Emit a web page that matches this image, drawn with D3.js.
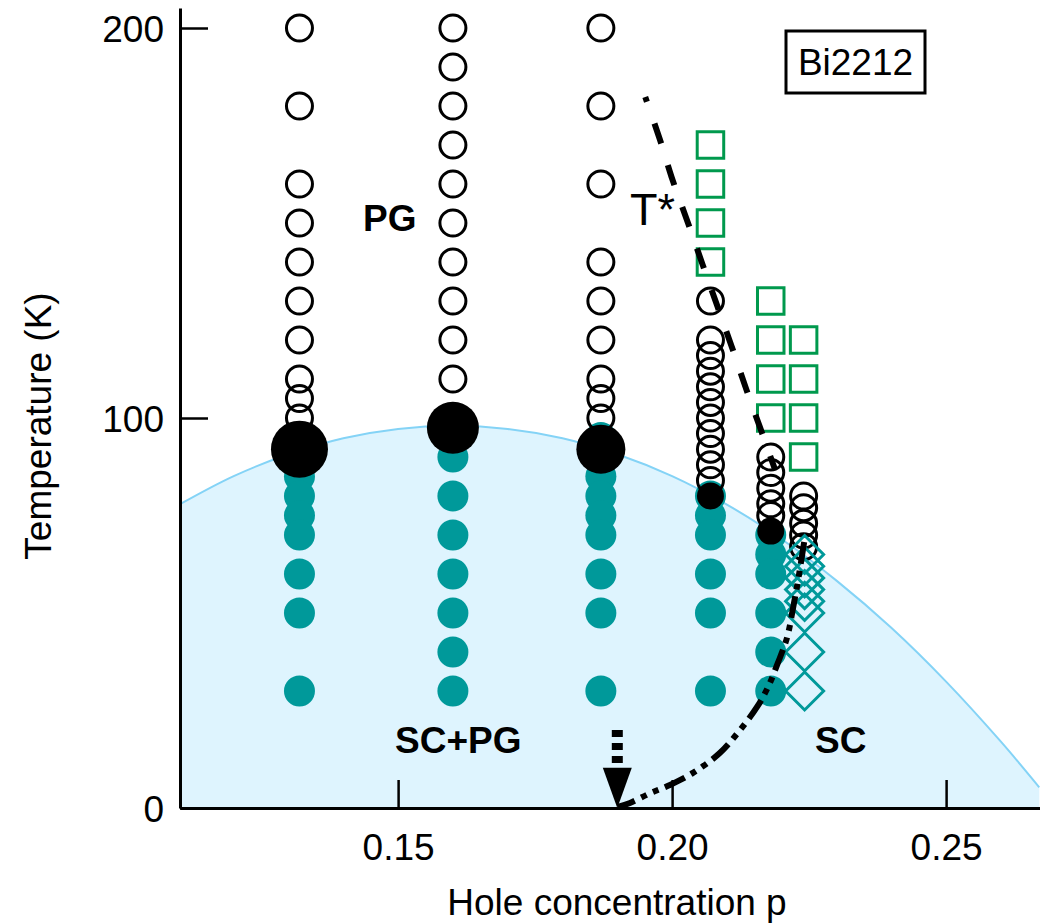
<!DOCTYPE html>
<html>
<head>
<meta charset="utf-8">
<script src="https://cdn.jsdelivr.net/npm/d3@7"></script>
<style>
  html, body { margin: 0; padding: 0; background: #fff; }
  svg { display: block; }
  text { font-family: "Liberation Sans", Arial, sans-serif; fill: #000; }
</style>
</head>
<body>
<svg id="chart" width="1040" height="923"></svg>
<script>
// ---------- data ----------
const xTicks = [0.15, 0.20, 0.25];
const xTickLabels = ["0.15", "0.20", "0.25"];
const yTicks = [0, 100, 200];
const yTickLabels = ["0", "100", "200"];

// superconducting dome
const domeP = [0.1102, 0.12, 0.13, 0.14, 0.15, 0.16, 0.17, 0.18, 0.19, 0.20, 0.21, 0.22, 0.23, 0.24, 0.25, 0.26, 0.267];
const domeT = [77.9, 85.1, 90.7, 94.8, 97.2, 98.0, 97.2, 94.8, 90.7, 85.1, 77.8, 68.9, 58.3, 46.2, 32.4, 17.0, 5.3];

// sample dopings
const sampleP = [0.132, 0.160, 0.187, 0.207, 0.218, 0.224];
// open circles (pseudogap) temperatures per sample
const openT = [
  [200, 180, 160, 150, 140, 130, 120, 110, 105, 100],
  [200, 190, 180, 170, 160, 150, 140, 130, 120, 110],
  [200, 180, 160, 140, 130, 120, 110, 105, 100],
  [130, 120, 116, 112, 108, 104, 100, 96, 92, 88, 84],
  [90, 86, 82, 78, 75],
  [80, 77, 73, 70, 67]
];
// teal filled circles (SC + PG) temperatures per sample
const scpgT = [
  [85, 80, 75, 70, 60, 50, 30],
  [90, 80, 70, 60, 50, 40, 30],
  [95, 85, 80, 75, 70, 60, 50, 30],
  [80, 75, 70, 60, 50, 30],
  [70, 65, 60, 50, 40, 30],
  []
];
// Tc markers
const tcBigP = [0.132, 0.160, 0.187];
const tcBigT = [92, 97.5, 92];
const tcSmallP = [0.207, 0.218];
const tcSmallT = [80, 71];
// green squares
const squareP = [0.207, 0.218, 0.224];
const squareT = [
  [170, 160, 150, 140],
  [130, 120, 110, 100],
  [120, 110, 100, 90]
];
// teal diamonds
const diamondP = 0.224;
const diamondT = [65, 62, 59, 56, 53, 50, 40, 30];
// T* dashed line
const tStarP = [0.1951, 0.1978, 0.1999, 0.2029, 0.2056, 0.2083, 0.2109, 0.2137, 0.2164, 0.2188];
const tStarT = [182.3, 171.3, 161.8, 150.0, 139.2, 128.5, 118.2, 106.7, 96.2, 86.7];
// dash-dot curve
const ddP = [0.2241, 0.2230, 0.2221, 0.2210, 0.2193, 0.2175, 0.2155, 0.2124, 0.2087, 0.2038, 0.1996, 0.1960, 0.1923, 0.1901];
const ddT = [68.2, 58.5, 51.5, 43.8, 37.2, 31.0, 25.9, 20.0, 14.1, 9.0, 5.9, 3.8, 1.3, 0.3];
// arrow at critical doping
const arrowP = 0.19;
const arrowTopT = 20, arrowHeadT = 10.3;

const bigRadius = [28.5, 26, 24.5];

// ---------- scales ----------
const svg = d3.select("#chart");
const x = d3.scaleLinear().domain([0.1102, 0.1102 + 860 / 5480]).range([180, 1040]);
const y = d3.scaleLinear().domain([0, 800 / 3.9]).range([808, 8]);

const teal = "#00999a", green = "#00994d";

// dome
const domePts = domeP.map((p, i) => [p, domeT[i]]);
svg.append("path")
  .datum(domePts)
  .attr("fill", "#def4fe")
  .attr("d", d3.area().x(d => x(d[0])).y0(y(0)).y1(d => y(d[1])).curve(d3.curveCatmullRom));
svg.append("path")
  .datum(domePts)
  .attr("fill", "none").attr("stroke", "#84d3f6").attr("stroke-width", 2)
  .attr("d", d3.line().x(d => x(d[0])).y(d => y(d[1])).curve(d3.curveCatmullRom));

// teal circles
const tealData = [];
scpgT.forEach((arr, i) => arr.forEach(t => tealData.push([sampleP[i], t])));
svg.append("g").selectAll("circle").data(tealData).join("circle")
  .attr("cx", d => x(d[0])).attr("cy", d => y(d[1])).attr("r", 15.5)
  .attr("fill", teal);

// open circles
const openData = [];
openT.forEach((arr, i) => arr.forEach(t => openData.push([sampleP[i], t])));
svg.append("g").selectAll("circle").data(openData).join("circle")
  .attr("cx", d => x(d[0])).attr("cy", d => y(d[1])).attr("r", 13)
  .attr("fill", "none").attr("stroke", "#000").attr("stroke-width", 3);

// big Tc circles
svg.append("g").selectAll("circle").data(tcBigP).join("circle")
  .attr("cx", d => x(d)).attr("cy", (d, i) => y(tcBigT[i])).attr("r", (d, i) => bigRadius[i])
  .attr("fill", "#000");
// small Tc circles
svg.append("g").selectAll("circle").data(tcSmallP).join("circle")
  .attr("cx", d => x(d)).attr("cy", (d, i) => y(tcSmallT[i])).attr("r", 13.5)
  .attr("fill", "#000");

// squares
const sqData = [];
squareT.forEach((arr, i) => arr.forEach(t => sqData.push([squareP[i], t])));
const sq = 26.5;
svg.append("g").selectAll("rect").data(sqData).join("rect")
  .attr("x", d => x(d[0]) - sq / 2).attr("y", d => y(d[1]) - sq / 2)
  .attr("width", sq).attr("height", sq)
  .attr("fill", "none").attr("stroke", green).attr("stroke-width", 3);

// diamonds
const dh = 19;
svg.append("g").selectAll("path").data(diamondT).join("path")
  .attr("d", t => {
    const cx = x(diamondP) + 1, cy = y(t);
    return `M${cx},${cy - dh}L${cx + dh},${cy}L${cx},${cy + dh}L${cx - dh},${cy}Z`;
  })
  .attr("fill", "none").attr("stroke", teal).attr("stroke-width", 3);

// T* dashed line
svg.append("path")
  .datum(tStarP.map((p, i) => [p, tStarT[i]]))
  .attr("fill", "none").attr("stroke", "#000").attr("stroke-width", 6)
  .attr("stroke-dasharray", "21,23").attr("stroke-dashoffset", 16)
  .attr("d", d3.line().x(d => x(d[0])).y(d => y(d[1])).curve(d3.curveCatmullRom));

// dash-dot curve
svg.append("path")
  .datum(ddP.map((p, i) => [p, ddT[i]]))
  .attr("fill", "none").attr("stroke", "#000").attr("stroke-width", 6)
  .attr("stroke-dasharray", "22,7,6,7,6,7")
  .attr("d", d3.line().x(d => x(d[0])).y(d => y(d[1])).curve(d3.curveCatmullRom));

// arrow
svg.append("line")
  .attr("x1", x(arrowP)).attr("x2", x(arrowP))
  .attr("y1", y(arrowTopT)).attr("y2", y(arrowHeadT))
  .attr("stroke", "#000").attr("stroke-width", 11).attr("stroke-dasharray", "7,6");
svg.append("path")
  .attr("d", `M${x(arrowP) - 14.5},${y(arrowHeadT)}L${x(arrowP) + 14.5},${y(arrowHeadT)}L${x(arrowP)},${y(0)}Z`)
  .attr("fill", "#000");

// region labels
svg.append("text").attr("x", 363).attr("y", 231).attr("font-size", 37).attr("font-weight", "bold").text("PG");
svg.append("text").attr("x", 395).attr("y", 753).attr("font-size", 37).attr("font-weight", "bold").text("SC+PG");
svg.append("text").attr("x", 815).attr("y", 753).attr("font-size", 37).attr("font-weight", "bold").text("SC");
svg.append("text").attr("x", 630).attr("y", 225).attr("font-size", 45).text("T*");

// sample box
svg.append("rect").attr("x", 786).attr("y", 31).attr("width", 139).attr("height", 62)
  .attr("fill", "#fff").attr("stroke", "#000").attr("stroke-width", 3);
svg.append("text").attr("x", 855.5).attr("y", 75).attr("font-size", 37).attr("text-anchor", "middle").text("Bi2212");

// axes
const xAxis = svg.append("g").attr("transform", "translate(0,808)")
  .call(d3.axisBottom(x).tickValues(xTicks).tickFormat((d, i) => xTickLabels[i]).tickSizeInner(-28).tickSizeOuter(0));
xAxis.select(".domain").attr("stroke-width", 3);
xAxis.selectAll(".tick line").attr("stroke-width", 2.5);
xAxis.selectAll(".tick text").attr("font-size", 37).attr("font-family", "Liberation Sans, Arial, sans-serif")
  .attr("y", 52).attr("dy", 0);

const yAxis = svg.append("g").attr("transform", "translate(180,0)")
  .call(d3.axisLeft(y).tickValues(yTicks).tickFormat((d, i) => yTickLabels[i]).tickSizeInner(-28).tickSizeOuter(0));
yAxis.select(".domain").attr("stroke-width", 3);
yAxis.selectAll(".tick line").attr("stroke-width", 2.5);
yAxis.selectAll(".tick text").attr("font-size", 37).attr("font-family", "Liberation Sans, Arial, sans-serif")
  .attr("x", -16).attr("dy", "0.37em");

// axis titles
svg.append("text").attr("x", 617).attr("y", 915).attr("font-size", 37).attr("text-anchor", "middle")
  .text("Hole concentration p");
svg.append("text").attr("transform", "translate(51,426) rotate(-90)").attr("font-size", 37)
  .attr("text-anchor", "middle").text("Temperature (K)");
</script>
</body>
</html>
